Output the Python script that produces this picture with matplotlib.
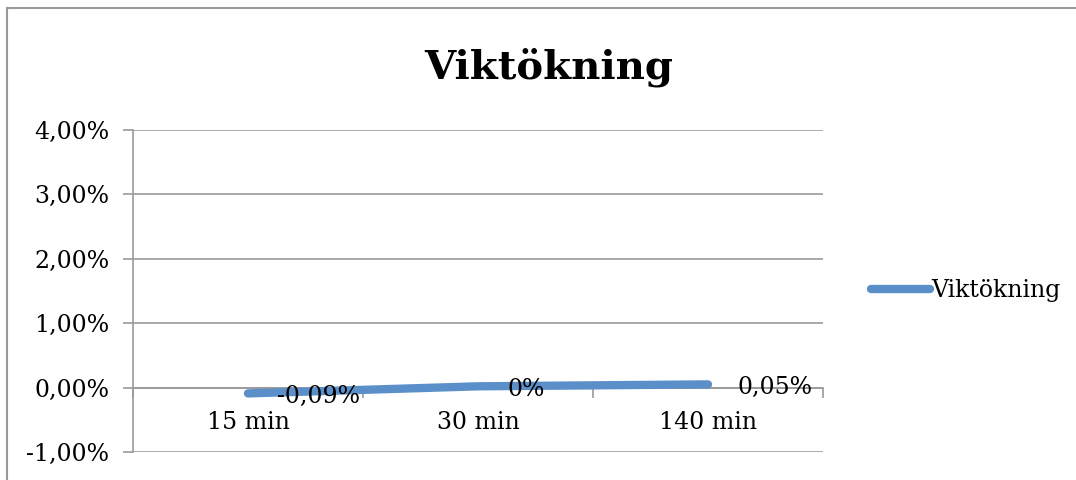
import numpy as np
import matplotlib
matplotlib.use('Agg')
from matplotlib import pyplot as plt
from matplotlib.lines import Line2D

# data
categories = ['15 min', '30 min', '140 min']
values = [-0.09, 0.02, 0.05]
value_labels = ['-0,09%', '0%', '0,05%']
yticks = [-1, 0, 1, 2, 3, 4]
ytick_labels = ['-1,00%', '0,00%', '1,00%', '2,00%', '3,00%', '4,00%']

plt.rcParams['font.family'] = ['DejaVu Serif']
grey = '#9a9a9a'
blue = '#5b8fc9'

fig = plt.figure(figsize=(10.76, 4.8), dpi=100)
ax = fig.add_axes([133/1076, 28/480, 690/1076, 322/480])

# spines first (set_position resets the ticks)
for s in ['top', 'right']:
    ax.spines[s].set_visible(False)
ax.spines['left'].set_color(grey)
ax.spines['left'].set_linewidth(1.2)
ax.spines['bottom'].set_position(('data', 0))
ax.spines['bottom'].set_color(grey)
ax.spines['bottom'].set_linewidth(1.2)

x = np.arange(len(categories))
ax.plot(x, values, color=blue, lw=6, solid_capstyle='round', label='Viktökning', zorder=3)
for xi, v, t in zip(x, values, value_labels):
    ax.annotate(t, (xi, v), xytext=(21, -2), textcoords='offset points',
                ha='left', va='center', fontsize=17, zorder=4)

ax.set_xlim(-0.5, 2.5)
ax.set_ylim(-1, 4)
ax.set_yticks(yticks)
ax.set_yticklabels(ytick_labels, fontsize=17)
ax.set_xticks(x)
ax.set_xticklabels(categories, fontsize=17)
ax.set_xticks([-0.5, 0.5, 1.5, 2.5], minor=True)
ax.tick_params(axis='x', which='major', length=0, pad=17)
ax.tick_params(axis='x', which='minor', length=7, color=grey, width=1.2)
ax.tick_params(axis='y', length=7, color=grey, width=1.2, pad=10)
ax.yaxis.grid(True, color=grey, lw=1.2)
ax.set_axisbelow(True)

fig.text(549/1076, 1 - 67/480, 'Viktökning', fontsize=29, fontweight='bold',
         ha='center', va='center')

leg = ax.legend(loc='center left', bbox_to_anchor=(850/1076, 1 - 291/480),
                bbox_transform=fig.transFigure, frameon=False, fontsize=17,
                handlelength=2.5, handletextpad=0.05)

# outer chart border
fig.add_artist(Line2D([7/1076, 7/1076], [0, 1 - 8/480], color=grey, lw=1.5, transform=fig.transFigure))
fig.add_artist(Line2D([7/1076, 1], [1 - 8/480, 1 - 8/480], color=grey, lw=1.5, transform=fig.transFigure))

fig.savefig('out.png', dpi=100)
